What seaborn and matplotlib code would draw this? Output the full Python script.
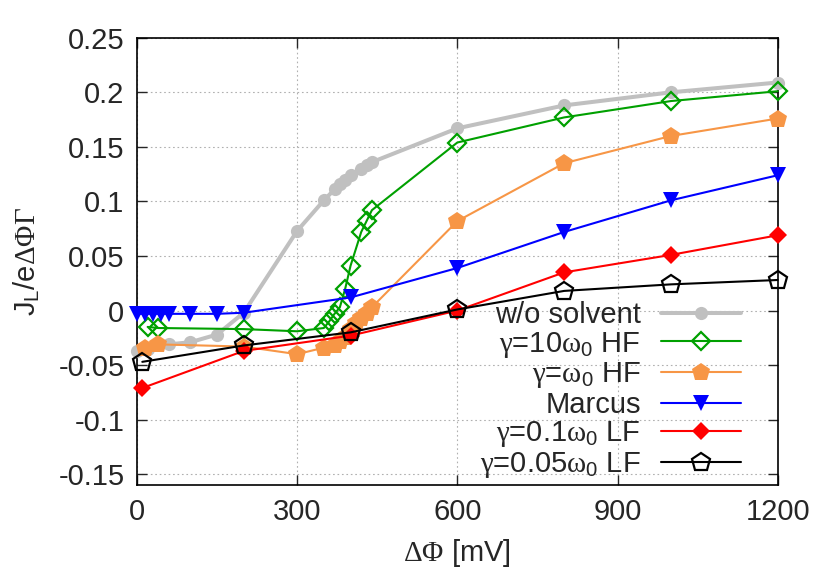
import numpy as np
import pandas as pd
import seaborn as sns
import matplotlib.pyplot as plt
from matplotlib.ticker import FixedLocator, FuncFormatter

# data
x_nosolv = [0, 20, 60, 100, 150, 200, 300, 350, 370, 380, 390, 400, 420, 430, 440, 600, 800, 1000, 1200]
y_nosolv = [-0.037, -0.035, -0.031, -0.029, -0.022, -0.002, 0.073, 0.101, 0.111, 0.116, 0.120,
            0.124, 0.130, 0.133, 0.136, 0.167, 0.188, 0.200, 0.209]

x_10hf = [20, 40, 200, 300, 350, 360, 370, 380, 390, 400, 420, 430, 440, 600, 800, 1000, 1200]
y_10hf = [-0.015, -0.016, -0.017, -0.019, -0.016, -0.010, -0.003, 0.003, 0.020, 0.041,
          0.072, 0.082, 0.092, 0.154, 0.177, 0.192, 0.201]

x_1hf = [15, 40, 200, 300, 350, 370, 380, 390, 400, 410, 420, 430, 440, 600, 800, 1000, 1200]
y_1hf = [-0.034, -0.031, -0.033, -0.040, -0.034, -0.032, -0.028, -0.024, -0.017, -0.011,
         -0.007, -0.002, 0.003, 0.082, 0.135, 0.160, 0.176]

x_marcus = [0, 15, 30, 45, 60, 100, 150, 200, 400, 600, 800, 1000, 1200]
y_marcus = [-0.003, -0.003, -0.003, -0.003, -0.003, -0.003, -0.003, -0.002, 0.012, 0.039,
            0.072, 0.101, 0.124]

x_01lf = [10, 200, 400, 600, 800, 1000, 1200]
y_01lf = [-0.071, -0.037, -0.023, 0.0, 0.035, 0.051, 0.069]

x_005lf = [10, 200, 400, 600, 800, 1000, 1200]
y_005lf = [-0.047, -0.032, -0.020, 0.001, 0.018, 0.024, 0.028]

labels = ["w/o solvent", r"$\gamma$=10$\omega_0$ HF", r"$\gamma$=$\omega_0$ HF", "Marcus",
          r"$\gamma$=0.1$\omega_0$ LF", r"$\gamma$=0.05$\omega_0$ LF"]

sns.set_style("ticks")
plt.rcParams.update({
    "font.family": ["Liberation Sans", "DejaVu Sans"],
    "font.size": 21,
    "axes.unicode_minus": False,
    "mathtext.fontset": "custom",
    "mathtext.rm": "Liberation Sans",
    "mathtext.it": "Liberation Serif",
    "mathtext.cal": "Liberation Serif",
})

fig = plt.figure(figsize=(8.3, 5.81), dpi=100)
ax = fig.add_axes([0.165, 0.165, 0.772, 0.770])

series = [
    (x_nosolv, y_nosolv, dict(color="#c0c0c0", lw=2.9, marker="o", ms=9.5, mfc="#c0c0c0", mec="#c0c0c0", mew=0)),
    (x_10hf, y_10hf, dict(color="#00a000", lw=1.5, marker="D", ms=9, mfc="none", mec="#00a000", mew=1.6)),
    (x_1hf, y_1hf, dict(color="#f79646", lw=1.5, marker="p", ms=13.5, mfc="#f79646", mec="#f79646", mew=0)),
    (x_marcus, y_marcus, dict(color="#0000ff", lw=1.5, marker="v", ms=11, mfc="#0000ff", mec="#0000ff", mew=0)),
    (x_01lf, y_01lf, dict(color="#ff0000", lw=1.5, marker="D", ms=9, mfc="#ff0000", mec="#ff0000", mew=0)),
    (x_005lf, y_005lf, dict(color="#000000", lw=1.5, marker="p", ms=13.5, mfc="none", mec="#000000", mew=1.6)),
]

for (xs, ys, kw), lab in zip(series, labels):
    sns.lineplot(x=xs, y=ys, ax=ax, label=lab, sort=False, estimator=None,
                 color=kw["color"], linewidth=kw["lw"], marker=kw["marker"],
                 markersize=kw["ms"], markerfacecolor=kw["mfc"],
                 markeredgecolor=kw["mec"], markeredgewidth=kw["mew"], clip_on=False)

ax.set_xlim(0, 1200)
ax.set_ylim(-0.16, 0.25)
ax.xaxis.set_major_locator(FixedLocator([0, 300, 600, 900, 1200]))
ax.yaxis.set_major_locator(FixedLocator(np.round(np.arange(-0.15, 0.2501, 0.05), 2)))
ax.yaxis.set_major_formatter(FuncFormatter(lambda v, p: "%g" % round(v, 2)))
ax.grid(True, color="#b0b0b0", linestyle=(0, (1.5, 2.5)), linewidth=0.8)
ax.tick_params(direction="in", length=7, width=1, top=True, right=True, pad=9, labelsize=21)
for s in ax.spines.values():
    s.set_linewidth(1.2)
    s.set_color("black")
    s.set_zorder(1)

ax.set_xlabel(r"$\mathcal{\Delta\Phi}$ [mV]", fontsize=21, labelpad=8)
ax.set_ylabel(r"J$_\mathrm{L}$/e$\mathcal{\Delta\Phi\Gamma}$", fontsize=21, labelpad=12)

handles, labs = ax.get_legend_handles_labels()
ax.legend(handles, labs, loc="lower right", bbox_to_anchor=(0.966, -0.021), frameon=False,
          markerfirst=False, handlelength=2.75, handletextpad=0.7, labelspacing=0.02,
          borderpad=0, fontsize=21)

fig.savefig("out.png", dpi=100)
